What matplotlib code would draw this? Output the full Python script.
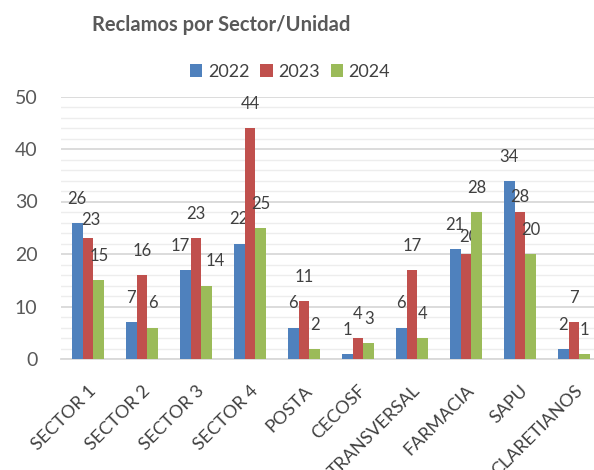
import numpy as np
import matplotlib
matplotlib.use("Agg")
import matplotlib.pyplot as plt
from matplotlib.ticker import MultipleLocator

plt.rcParams['font.family'] = ['Lato', 'DejaVu Sans']

## DATA
categorias = ['SECTOR 1', 'SECTOR 2', 'SECTOR 3', 'SECTOR 4', 'POSTA', 'CECOSF',
              'TRANSVERSAL', 'FARMACIA', 'SAPU', 'CLARETIANOS']
anios = ['2022', '2023', '2024']
v2022 = [26, 7, 17, 22, 6, 1, 6, 21, 34, 2]
v2023 = [23, 16, 23, 44, 11, 4, 17, 20, 28, 7]
v2024 = [15, 6, 14, 25, 2, 3, 4, 28, 20, 1]
yticks = [0, 10, 20, 30, 40, 50]

COLORS = ['#4F81BD', '#C0504D', '#9BBB59']
TXT = '#404040'

# label nudges (dx px, gap px) where labels got pushed around to avoid overlaps
NUDGE = {('SECTOR 1', '2023'): (3, 10),
         ('SECTOR 3', '2022'): (-5, 16),
         ('SECTOR 3', '2024'): (8, 16),
         ('FARMACIA', '2023'): (3, 9),
         ('SAPU', '2023'): (0, 7)}

fig = plt.figure(figsize=(5.94, 4.70), dpi=100, facecolor='w')
ax = fig.add_axes([61/594, 111/470, 540/594, 262.5/470])

x = np.arange(len(categorias))
w = 0.2
for i, (lab, vals) in enumerate(zip(anios, [v2022, v2023, v2024])):
  bars = ax.bar(x + (i-1)*w, vals, width=w, color=COLORS[i], label=lab, zorder=3)
  for c, b, v in zip(categorias, bars, vals):
    dx, gap = NUDGE.get((c, lab), (0, 16))
    ax.annotate(str(v), (b.get_x()+b.get_width()/2, v), xytext=(dx*0.72, gap*0.72),
                textcoords='offset points', ha='center', va='bottom',
                fontsize=12, color=TXT)

ax.set_xlim(-0.5, len(categorias)-0.5)
ax.set_ylim(0, 50)
ax.set_yticks(yticks)
ax.yaxis.set_minor_locator(MultipleLocator(2))
ax.grid(axis='y', which='major', color='#D9D9D9', lw=1.3, zorder=0)
ax.grid(axis='y', which='minor', color='#EDEDED', lw=1.0, zorder=0)
for s in ['top', 'right', 'left']:
  ax.spines[s].set_visible(False)
ax.spines['bottom'].set_color('#D9D9D9')
ax.spines['bottom'].set_linewidth(1.3)
ax.tick_params(axis='both', which='both', length=0)
ax.tick_params(axis='y', labelsize=14, labelcolor='#595959', pad=17)
ax.set_xticks(x)
ax.set_xticklabels(categorias, rotation=45, ha='right', va='top', rotation_mode='anchor',
                   fontsize=13, color=TXT)
ax.tick_params(axis='x', pad=17)

fig.text(92/594, 1-25/470, 'Reclamos por Sector/Unidad', fontsize=14.5, fontweight='bold',
         color='#595959', va='center', ha='left')
leg = fig.legend(loc='center', bbox_to_anchor=(290/594, 1-72/470), ncol=3, frameon=False,
                 fontsize=13, handlelength=0.7, handleheight=0.7, handletextpad=0.3,
                 columnspacing=0.6)
for t in leg.get_texts():
  t.set_color(TXT)

fig.savefig('out.png', dpi=100)
